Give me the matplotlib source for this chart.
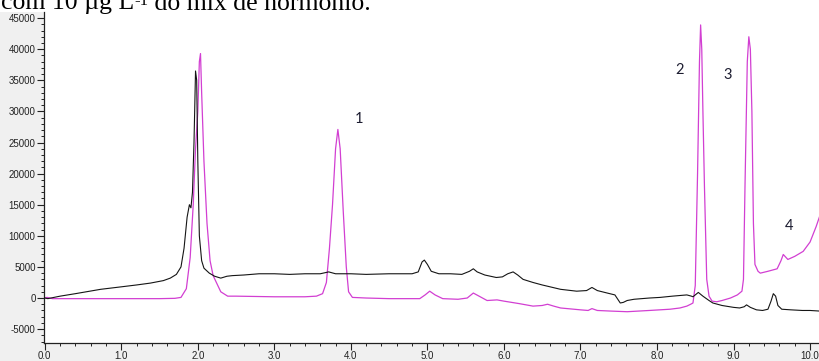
import matplotlib
matplotlib.use("Agg")
import matplotlib.pyplot as plt
from matplotlib.ticker import MultipleLocator, FormatStrFormatter

# ---- data (time in min, signal) ----
black_t = [0.00, 0.04, 0.2, 0.4, 0.73, 1.0, 1.2, 1.38, 1.55, 1.64, 1.72, 1.78, 1.82, 1.86,
           1.89, 1.91, 1.93, 1.95, 1.97, 1.985, 2.0, 2.02, 2.05, 2.08, 2.15, 2.22, 2.3,
           2.38, 2.45, 2.6, 2.8, 3.0, 3.2, 3.4, 3.6, 3.71, 3.8, 4.0, 4.2, 4.5, 4.8, 4.88,
           4.93, 4.96, 5.0, 5.05, 5.15, 5.3, 5.45, 5.55, 5.6, 5.65, 5.75, 5.9, 5.98, 6.05,
           6.12, 6.18, 6.25, 6.38, 6.5, 6.74, 6.95, 7.08, 7.15, 7.22, 7.35, 7.45, 7.52,
           7.56, 7.61, 7.7, 7.9, 8.04, 8.2, 8.39, 8.45, 8.47, 8.5, 8.54, 8.6, 8.68, 8.73,
           8.85, 9.0, 9.08, 9.14, 9.17, 9.22, 9.3, 9.38, 9.45, 9.49, 9.52, 9.55, 9.58,
           9.63, 9.75, 9.9, 10.0, 10.13]
black_v = [0, -100, 300, 700, 1400, 1800, 2100, 2400, 2800, 3200, 3800, 5000, 8000, 13000,
           15000, 14500, 17000, 25000, 36500, 35000, 22000, 10000, 6000, 4800, 4000, 3500, 3200,
           3500, 3600, 3700, 3900, 3900, 3800, 3900, 3900, 4200, 3900, 3900, 3800, 3900, 3900, 4200,
           5800, 6100, 5400, 4300, 3900, 3900, 3800, 4300, 4700, 4200, 3700, 3300, 3400, 3900,
           4200, 3700, 3000, 2500, 2100, 1400, 1100, 1200, 1700, 1200, 800, 500, -800,
           -700, -400, -200, 0, 100, 300, 500, 300, 200, 500, 900, 300, -400, -800,
           -1200, -1500, -1600, -1400, -1100, -1500, -1900, -2000, -1800, -500, 700, 300, -1200,
           -1800, -1900, -2000, -2000, -2100]

mag_t = [0.0, 0.03, 0.1, 0.5, 1.0, 1.5, 1.7, 1.78, 1.85, 1.9, 1.94, 1.97, 2.0, 2.02, 2.035,
         2.05, 2.08, 2.12, 2.16, 2.2, 2.25, 2.3, 2.39, 2.5, 3.0, 3.4, 3.55, 3.63, 3.68, 3.72,
         3.76, 3.8, 3.83, 3.86, 3.9, 3.94, 3.97, 4.02, 4.2, 4.5, 4.9, 4.97, 5.03, 5.1, 5.2,
         5.4, 5.52, 5.6, 5.66, 5.78, 5.91, 6.0, 6.2, 6.38, 6.5, 6.57, 6.65, 6.74, 7.0, 7.1,
         7.15, 7.22, 7.4, 7.61, 7.9, 8.17, 8.3, 8.39, 8.44, 8.47, 8.5, 8.53, 8.555, 8.57,
         8.585, 8.6, 8.62, 8.65, 8.68, 8.72, 8.78, 8.85, 8.96, 9.05, 9.11, 9.13, 9.15, 9.18,
         9.2, 9.22, 9.24, 9.26, 9.28, 9.32, 9.35, 9.45, 9.57, 9.62, 9.65, 9.68, 9.71, 9.8,
         9.91, 10.0, 10.08, 10.13]
mag_v = [0, 100, -100, -100, -100, -100, -50, 100, 1500, 6500, 15000, 24000, 30000, 38000, 39300,
         33000, 22000, 12000, 6000, 3600, 2300, 1000, 300, 300, 200, 200, 300, 700, 2500, 8000,
         15000, 24000, 27100, 24000, 14000, 5000, 1000, 100, 0, -100, -100, 500, 1100, 500, -100,
         -200, 0, 800, 400, -400, -300, -500, -900, -1300, -1200, -1000, -1300, -1600, -1900, -2000,
         -1700, -2000, -2100, -2200, -2000, -1800, -1600, -1300, -1000, -800, 2000, 20000, 38000, 43900,
         40000, 30000, 18000, 3000, 300, -500, -600, -400, 0, 500, 1100, 3000, 18000, 38000,
         42000, 40000, 30000, 12000, 5400, 4300, 4000, 4300, 4700, 6000, 7000, 6600, 6200, 6700,
         7500, 9000, 11500, 13300]

peak_labels = ["1", "2", "3", "4"]
peak_label_t = [4.1, 8.29, 8.93, 9.73]
peak_label_v = [28800, 36700, 35900, 11500]

x_ticks = [0, 1, 2, 3, 4, 5, 6, 7, 8, 9, 10]
y_ticks = [-5000, 0, 5000, 10000, 15000, 20000, 25000, 30000, 35000, 40000, 45000]

caption_parts = ["com 10 µg L", "-1", " do mix de hormônio."]

# ---- figure ----
W, H = 820, 361
fig = plt.figure(figsize=(W / 100, H / 100), dpi=100)
fig.patch.set_facecolor('white')
top_px = 12

# grey backdrop of the instrument window (below the caption strip)
bg = fig.add_axes([0, 0, 1, 1 - top_px / H], zorder=0)
bg.set_facecolor('#f0f0f0')
bg.set_xticks([])
bg.set_yticks([])
for s in bg.spines.values():
    s.set_visible(False)

left_px, bottom_px = 44, 343
ax = fig.add_axes([left_px / W, (H - bottom_px) / H, 1 - left_px / W, (bottom_px - top_px) / H],
                  zorder=1)
ax.set_facecolor('white')

ax.plot(black_t, black_v, color='#151515', lw=0.8, zorder=3)
ax.plot(mag_t, mag_v, color='#d23fd2', lw=0.9, zorder=2)

ax.set_xlim(-0.01, 10.13)
ax.set_ylim(-7230, 45980)

ax.set_xticks(x_ticks)
ax.set_yticks(y_ticks)
ax.xaxis.set_minor_locator(MultipleLocator(0.2))
ax.yaxis.set_minor_locator(MultipleLocator(1000))
ax.xaxis.set_major_formatter(FormatStrFormatter('%.1f'))
ax.yaxis.set_major_formatter(FormatStrFormatter('%d'))

for s in ['top', 'right']:
    ax.spines[s].set_visible(False)
for s in ['left', 'bottom']:
    ax.spines[s].set_linewidth(0.9)
    ax.spines[s].set_color('#222222')

ax.tick_params(axis='both', which='major', direction='out', length=5, width=0.8,
               labelsize=7, colors='#222222', pad=1)
ax.tick_params(axis='both', which='minor', direction='out', length=2.5, width=0.7,
               colors='#222222')
for lab in ax.get_xticklabels() + ax.get_yticklabels():
    lab.set_fontfamily('Liberation Sans')

for lab, t, v in zip(peak_labels, peak_label_t, peak_label_v):
    ax.text(t, v, lab, fontsize=10.5, family='Lato', color='#1c1c30',
            ha='center', va='center', zorder=5)

# caption (cut by the top edge, as in the source image); built in pieces for the superscript
fig.canvas.draw()
renderer = fig.canvas.get_renderer()
x_px = 1.0
base_px = 9.5
sizes = [18.5, 12, 18.5]
raises = [0.0, 4.5, 0.0]
for part, fs, rz in zip(caption_parts, sizes, raises):
    t = fig.text(x_px / W, 1 - (base_px - rz) / H, part, fontsize=fs,
                 family='Liberation Serif', ha='left', va='baseline', color='black', zorder=5)
    bb = t.get_window_extent(renderer=renderer)
    x_px = bb.x1

fig.savefig('out.png', dpi=100, facecolor=fig.get_facecolor())
